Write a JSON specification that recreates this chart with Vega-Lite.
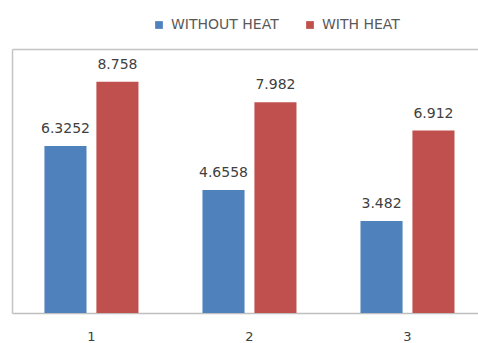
{
  "$schema": "https://vega.github.io/schema/vega-lite/v6.json",
  "autosize": "none",
  "width": 466,
  "height": 264,
  "padding": {"left": 12, "top": 49, "right": 0, "bottom": 30},
  "background": "white",
  "config": {
    "view": {"stroke": null},
    "font": "DejaVu Sans"
  },
  "data": {
    "values": [
      {"group": "1", "series": "WITHOUT HEAT", "value": 6.3252, "label": "6.3252"},
      {"group": "1", "series": "WITH HEAT", "value": 8.758, "label": "8.758"},
      {"group": "2", "series": "WITHOUT HEAT", "value": 4.6558, "label": "4.6558"},
      {"group": "2", "series": "WITH HEAT", "value": 7.982, "label": "7.982"},
      {"group": "3", "series": "WITHOUT HEAT", "value": 3.482, "label": "3.482"},
      {"group": "3", "series": "WITH HEAT", "value": 6.912, "label": "6.912"}
    ]
  },
  "encoding": {
    "xOffset": {
      "field": "series", "type": "nominal",
      "sort": ["WITHOUT HEAT", "WITH HEAT"],
      "scale": {"paddingInner": 0.19, "paddingOuter": 0}
    },
    "y": {
      "field": "value", "type": "quantitative",
      "scale": {"domain": [0, 10]},
      "axis": {
        "title": null, "labels": false, "ticks": false, "grid": false,
        "domain": true, "domainColor": "#c4c4c4", "domainWidth": 1.5
      }
    }
  },
  "layer": [
    {
      "mark": {"type": "bar"},
      "encoding": {
        "x": {
          "field": "group", "type": "nominal",
          "scale": {"paddingInner": 0.405, "paddingOuter": 0.177, "align": 0.58},
          "axis": {
            "title": null, "labelAngle": 0, "ticks": false,
            "domainColor": "#bfbfbf", "domainWidth": 1.5,
            "labelPadding": 17, "labelFontSize": 13, "labelColor": "#404040"
          }
        },
        "color": {
          "field": "series", "type": "nominal",
          "sort": ["WITHOUT HEAT", "WITH HEAT"],
          "scale": {"domain": ["WITHOUT HEAT", "WITH HEAT"], "range": ["#4F81BD", "#C0504D"]},
          "legend": {
            "title": null, "orient": "none", "direction": "horizontal",
            "legendX": 140, "legendY": -31,
            "symbolType": "square", "symbolSize": 60, "symbolStrokeWidth": 0,
            "labelFontSize": 14, "labelColor": "#595959", "columnPadding": 24,
            "labelOffset": 5
          }
        }
      }
    },
    {
      "mark": {"type": "text", "baseline": "alphabetic", "dy": -13, "fontSize": 14, "color": "#404040"},
      "encoding": {
        "x": {
          "field": "group", "type": "nominal",
          "axis": {
            "orient": "top", "title": null, "labels": false, "ticks": false,
            "domainColor": "#c4c4c4", "domainWidth": 1.5
          }
        },
        "text": {"field": "label"}
      }
    }
  ],
  "resolve": {"axis": {"x": "independent"}}
}
